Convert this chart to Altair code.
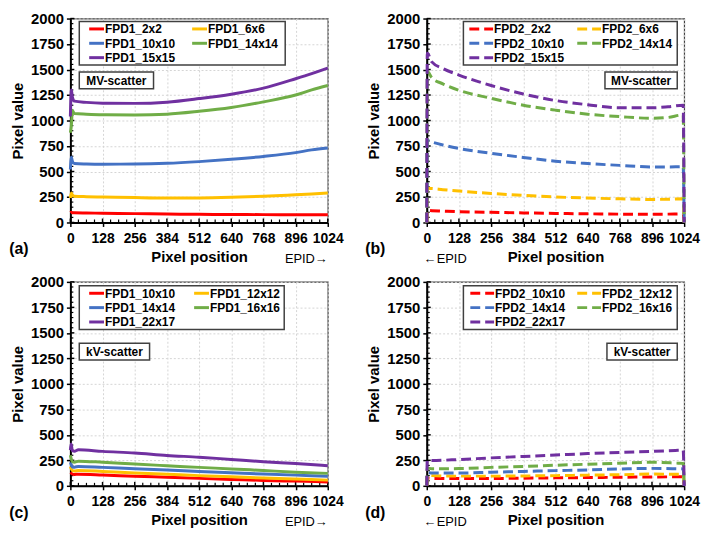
import altair as alt
import pandas as pd

# ---------------- data ----------------
COLORS = ["#FF0000", "#FFC000", "#4472C4", "#70AD47", "#7030A0"]

# (a) FPD1, MV-scatter
XA = [0, 4, 8, 16, 64, 128, 256, 384, 512, 640, 768, 896, 960, 1024]
A_NAMES = ["FPD1_2x2", "FPD1_6x6", "FPD1_10x10", "FPD1_14x14", "FPD1_15x15"]
A_2x2 = [95, 100, 96, 95, 93, 91, 87, 83, 80, 78, 77, 76, 75, 75]
A_6x6 = [240, 290, 270, 258, 253, 250, 244, 240, 241, 247, 257, 272, 280, 290]
A_10x10 = [520, 640, 600, 578, 574, 572, 573, 580, 597, 620, 648, 685, 712, 730]
A_14x14 = [880, 950, 1100, 1068, 1062, 1057, 1055, 1062, 1090, 1128, 1183, 1250, 1300, 1343]
A_15x15 = [1040, 1300, 1230, 1190, 1178, 1170, 1168, 1180, 1215, 1258, 1318, 1410, 1460, 1515]

# (b) FPD2, MV-scatter
XB = [0, 2, 20, 64, 128, 256, 384, 512, 640, 768, 896, 960, 1020, 1024]
B_NAMES = ["FPD2_2x2", "FPD2_6x6", "FPD2_10x10", "FPD2_14x14", "FPD2_15x15"]
B_2x2 = [0, 118, 116, 112, 106, 100, 94, 89, 85, 82, 81, 82, 85, 0]
B_6x6 = [0, 335, 333, 322, 308, 285, 266, 250, 240, 232, 226, 228, 232, 0]
B_10x10 = [0, 805, 790, 760, 726, 679, 638, 601, 578, 560, 545, 545, 548, 0]
B_14x14 = [0, 1480, 1420, 1360, 1296, 1218, 1150, 1102, 1062, 1038, 1022, 1030, 1055, 0]
B_15x15 = [0, 1660, 1575, 1510, 1446, 1343, 1260, 1196, 1155, 1125, 1125, 1135, 1150, 0]

# (c) FPD1, kV-scatter
XC = [0, 3, 8, 16, 32, 128, 256, 384, 512, 640, 768, 896, 1024]
C_NAMES = ["FPD1_10x10", "FPD1_12x12", "FPD1_14x14", "FPD1_16x16", "FPD1_22x17"]
C_10x10 = [130, 125, 115, 112, 113, 106, 94, 84, 73, 63, 53, 46, 38]
C_12x12 = [190, 170, 150, 145, 150, 141, 126, 113, 100, 88, 76, 66, 56]
C_14x14 = [230, 210, 185, 183, 190, 181, 168, 156, 141, 128, 116, 105, 94]
C_16x16 = [300, 270, 235, 232, 242, 231, 213, 197, 181, 166, 150, 134, 122]
C_22x17 = [350, 410, 345, 340, 354, 338, 322, 298, 281, 259, 237, 218, 197]

# (d) FPD2, kV-scatter
XD = [0, 2, 20, 128, 256, 384, 512, 640, 768, 896, 1000, 1020, 1024]
D_NAMES = ["FPD2_10x10", "FPD2_12x12", "FPD2_14x14", "FPD2_16x16", "FPD2_22x17"]
D_10x10 = [0, 75, 73, 72, 72, 75, 78, 81, 84, 87, 88, 88, 0]
D_12x12 = [0, 105, 100, 95, 95, 97, 100, 105, 109, 115, 113, 113, 0]
D_14x14 = [0, 130, 126, 125, 133, 141, 149, 156, 165, 171, 167, 166, 0]
D_16x16 = [0, 175, 167, 169, 181, 190, 202, 212, 222, 231, 222, 220, 0]
D_22x17 = [0, 250, 248, 258, 274, 288, 302, 316, 328, 338, 348, 350, 0]

X_TICKS = [0, 128, 256, 384, 512, 640, 768, 896, 1024]
Y_TICKS = [0, 250, 500, 750, 1000, 1250, 1500, 1750, 2000]
X_MINOR = [v for v in range(0, 1025, 32) if v % 128 != 0]
Y_MINOR = [v for v in range(0, 2001, 50) if v % 250 != 0]

FONT = "Liberation Sans"
W = 260
H_TOP = 206
H_BOT = 206
BORDER = "#404040"


def long_df(xs, names, series):
    rows = []
    for name, ys in zip(names, series):
        for x, y in zip(xs, ys):
            rows.append({"x": x, "y": y, "series": name})
    return pd.DataFrame(rows)


def one(text):
    return pd.DataFrame({"t": [text]})


def legend_layers(names, dashed, lx, ly, lw, lh, col_x, sym_len):
    layers = [alt.Chart(one("legend")).mark_rect(
        fill="white", stroke=BORDER, strokeWidth=1.5).encode(
        x=alt.value(lx), x2=alt.value(lx + lw),
        y=alt.value(ly), y2=alt.value(ly + lh))]
    for i, (name, col) in enumerate(zip(names, COLORS)):
        r, c = i // 2, i % 2
        xs = lx + col_x[c]
        yc = ly + 7.5 + r * 14.5
        rule_kw = dict(color=col, strokeWidth=3)
        if dashed:
            rule_kw["strokeDash"] = [10, 5]
        layers.append(alt.Chart(one(name)).mark_rule(**rule_kw).encode(
            x=alt.value(xs), x2=alt.value(xs + sym_len), y=alt.value(yc)))
        layers.append(alt.Chart(one(name)).mark_text(
            font=FONT, fontSize=12, fontWeight="bold", color="black",
            align="left", baseline="middle").encode(
            x=alt.value(xs + sym_len + 1), y=alt.value(yc + 0.5), text="t:N"))
    return layers


def panel(df, names, dashed, H, leg, box_label, box_x, box_y, box_w,
          letter, epid_left):
    xscale = alt.Scale(domain=[0, 1024], nice=False, zero=False)
    yscale = alt.Scale(domain=[0, 2000], nice=False)
    xaxis = alt.Axis(values=X_TICKS, title="Pixel position", format="d",
                     labelPadding=5, titlePadding=4, grid=True,
                     labelFlush=False, labelOverlap=False, labelFontSize=14)
    yaxis = alt.Axis(values=Y_TICKS, title="Pixel value", format="d",
                     labelPadding=3, titlePadding=5, grid=True,
                     labelOverlap=False, labelFontSize=15)

    line_kwargs = dict(strokeWidth=3, interpolate="monotone")
    if dashed:
        line_kwargs["strokeDash"] = [10, 5]
    lines = alt.Chart(df).mark_line(**line_kwargs).encode(
        x=alt.X("x:Q", scale=xscale, axis=xaxis),
        y=alt.Y("y:Q", scale=yscale, axis=yaxis),
        color=alt.Color("series:N", scale=alt.Scale(domain=names, range=COLORS),
                        legend=None),
    )

    xminor = alt.Chart(pd.DataFrame({"x": X_MINOR})).mark_rule(
        color="black", strokeWidth=1.2).encode(
        x=alt.X("x:Q", scale=xscale, axis=xaxis), y=alt.value(H), y2=alt.value(H - 3))
    xmajor = alt.Chart(pd.DataFrame({"x": X_TICKS})).mark_rule(
        color="black", strokeWidth=1.5).encode(
        x=alt.X("x:Q", scale=xscale, axis=xaxis), y=alt.value(H), y2=alt.value(H - 4))
    yminor = alt.Chart(pd.DataFrame({"y": Y_MINOR})).mark_rule(
        color="black", strokeWidth=1.2).encode(
        y=alt.Y("y:Q", scale=yscale, axis=yaxis), x=alt.value(0), x2=alt.value(3))
    ymajor = alt.Chart(pd.DataFrame({"y": Y_TICKS})).mark_rule(
        color="black", strokeWidth=1.5).encode(
        y=alt.Y("y:Q", scale=yscale, axis=yaxis), x=alt.value(0), x2=alt.value(4))

    box = alt.Chart(one(box_label)).mark_rect(
        fill="white", stroke=BORDER, strokeWidth=1.5).encode(
        x=alt.value(box_x), x2=alt.value(box_x + box_w),
        y=alt.value(box_y), y2=alt.value(box_y + 17))
    box_text = alt.Chart(one(box_label)).mark_text(
        font=FONT, fontSize=12, fontWeight="bold", color="black",
        align="center", baseline="middle").encode(
        x=alt.value(box_x + box_w / 2), y=alt.value(box_y + 9), text="t:N")

    let = alt.Chart(one(letter)).mark_text(
        font=FONT, fontSize=16, fontWeight="bold", color="black",
        align="center", baseline="middle").encode(
        x=alt.value(-52), y=alt.value(H + 27), text="t:N")

    if epid_left:
        epid = alt.Chart(one("\u2190EPID")).mark_text(
            font=FONT, fontSize=13, color="black", align="left",
            baseline="middle").encode(
            x=alt.value(-3), y=alt.value(H + 37), text="t:N")
    else:
        epid = alt.Chart(one("EPID\u2192")).mark_text(
            font=FONT, fontSize=13, color="black", align="right",
            baseline="middle").encode(
            x=alt.value(W), y=alt.value(H + 37), text="t:N")

    lx, ly, lw, lh, col_x, sym_len = leg
    leg_layers = legend_layers(names, dashed, lx, ly, lw, lh, col_x, sym_len)

    return alt.layer(xminor, xmajor, yminor, ymajor, lines, box, box_text,
                     *leg_layers, let, epid).properties(width=W, height=H)


dfa = long_df(XA, A_NAMES, [A_2x2, A_6x6, A_10x10, A_14x14, A_15x15])
dfb = long_df(XB, B_NAMES, [B_2x2, B_6x6, B_10x10, B_14x14, B_15x15])
dfc = long_df(XC, C_NAMES, [C_10x10, C_12x12, C_14x14, C_16x16, C_22x17])
dfd = long_df(XD, D_NAMES, [D_10x10, D_12x12, D_14x14, D_16x16, D_22x17])

LEG_SOLID_TOP = (9, 3, 208, 44, (10, 114), 15)
LEG_DASH_TOP = (W - 7 - 216, 3, 216, 44, (6, 115), 24)
LEG_SOLID_BOT = (9, 4, 207, 44, (10, 116), 15)
LEG_DASH_BOT = (W - 7 - 216, 4, 216, 44, (7, 115), 24)

pa = panel(dfa, A_NAMES, False, H_TOP, LEG_SOLID_TOP, "MV-scatter", 9, 54, 75, "(a)", False)
pb = panel(dfb, B_NAMES, True, H_TOP, LEG_DASH_TOP, "MV-scatter", W - 7 - 73, 54, 73, "(b)", True)
pc = panel(dfc, C_NAMES, False, H_BOT, LEG_SOLID_BOT, "kV-scatter", 9, 62, 71, "(c)", False)
pd_ = panel(dfd, D_NAMES, True, H_BOT, LEG_DASH_BOT, "kV-scatter", W - 7 - 71, 62, 71, "(d)", True)

row1 = alt.hconcat(pa, pb, spacing=20).resolve_scale(color="independent")
row2 = alt.hconcat(pc, pd_, spacing=20).resolve_scale(color="independent")

chart = alt.vconcat(row1, row2, spacing=7).resolve_scale(
    color="independent").properties(
    padding={"left": 0, "top": 0, "right": 0, "bottom": 0}
).configure_axis(
    labelFont=FONT, labelFontSize=14, labelFontWeight="bold", labelColor="black",
    titleFont=FONT, titleFontSize=15, titleFontWeight="bold", titleColor="black",
    domainColor="black", domainWidth=2, tickColor="black", tickSize=4,
    tickWidth=1.5, gridColor="#d4d4d4", gridDash=[2, 2], gridWidth=1,
    labelOverlap=False,
).configure_view(stroke=BORDER, strokeWidth=1.2)

chart.save("out.html", embed_options={"renderer": "svg", "actions": False})
